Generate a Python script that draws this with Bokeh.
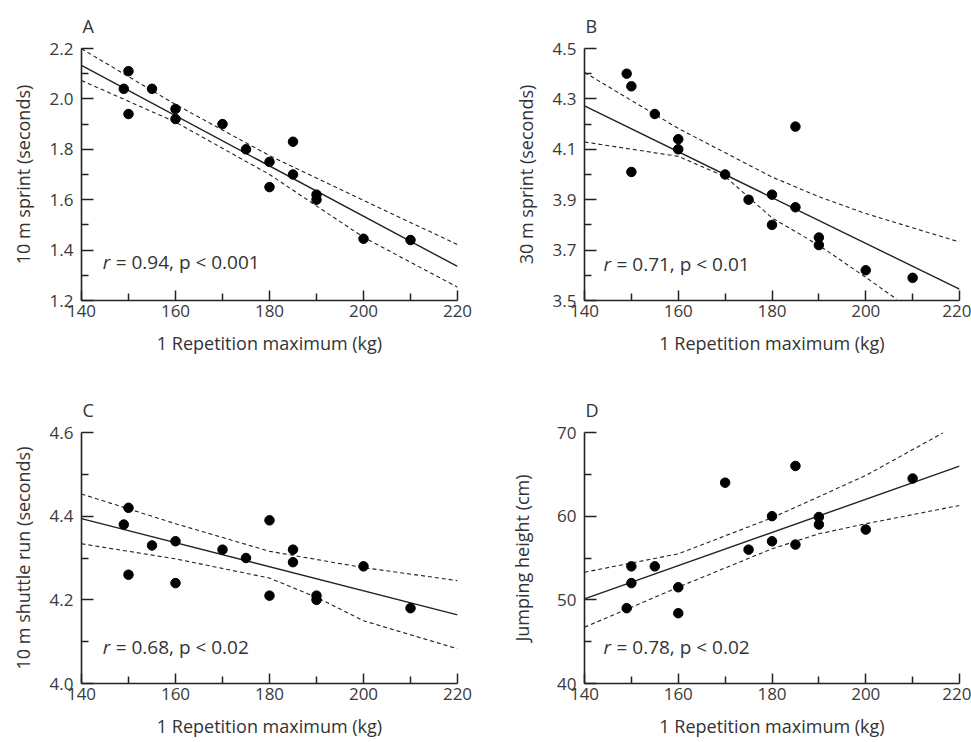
from bokeh.plotting import figure
from bokeh.layouts import column, row
from bokeh.models import Range1d, FixedTicker, PrintfTickFormatter, Label
from bokeh.embed import file_html
from bokeh.resources import INLINE

# ---------------- data ----------------
x_ticks = [140, 160, 180, 200, 220]
x_minor = [150, 170, 190, 210]
x_label = "1 Repetition maximum (kg)"

# Panel A: 10 m sprint
a_x = [149, 150, 150, 155, 160, 160, 170, 175, 180, 180, 185, 185, 190, 190, 200, 210]
a_y = [2.04, 2.11, 1.94, 2.04, 1.96, 1.92, 1.90, 1.80, 1.75, 1.65, 1.83, 1.70, 1.62, 1.60, 1.445, 1.44]
a_fit_x = [140, 220]
a_fit_y = [2.133, 1.335]
a_up_x = [140, 160, 180, 200, 220]
a_up_y = [2.199, 1.978, 1.775, 1.597, 1.422]
a_lo_x = [140, 160, 180, 200, 220]
a_lo_y = [2.073, 1.908, 1.700, 1.451, 1.253]
a_yticks = [1.2, 1.4, 1.6, 1.8, 2.0, 2.2]
a_yminor = [1.3, 1.5, 1.7, 1.9, 2.1]

# Panel B: 30 m sprint
b_x = [149, 150, 150, 155, 160, 160, 170, 175, 180, 180, 185, 185, 190, 190, 200, 210]
b_y = [4.40, 4.35, 4.01, 4.24, 4.14, 4.10, 4.00, 3.90, 3.92, 3.80, 4.19, 3.87, 3.75, 3.72, 3.62, 3.59]
b_fit_x = [140, 220]
b_fit_y = [4.272, 3.545]
b_up_x = [140, 160, 180, 190, 200, 220]
b_up_y = [4.405, 4.183, 3.990, 3.912, 3.845, 3.732]
b_lo_x = [140, 160, 170, 180, 190, 200, 206.6]
b_lo_y = [4.129, 4.072, 3.992, 3.828, 3.719, 3.592, 3.505]
b_yticks = [3.5, 3.7, 3.9, 4.1, 4.3, 4.5]
b_yminor = [3.6, 3.8, 4.0, 4.2, 4.4]

# Panel C: 10 m shuttle run
c_x = [149, 150, 150, 155, 160, 160, 170, 175, 180, 180, 185, 185, 190, 190, 200, 210]
c_y = [4.38, 4.42, 4.26, 4.33, 4.34, 4.24, 4.32, 4.30, 4.39, 4.21, 4.32, 4.29, 4.21, 4.20, 4.28, 4.18]
c_fit_x = [140, 220]
c_fit_y = [4.394, 4.164]
c_up_x = [140, 160, 180, 200, 220]
c_up_y = [4.453, 4.382, 4.316, 4.277, 4.246]
c_lo_x = [140, 160, 180, 190, 200, 220]
c_lo_y = [4.334, 4.298, 4.252, 4.206, 4.150, 4.083]
c_yticks = [4.0, 4.2, 4.4, 4.6]
c_yminor = [4.1, 4.3, 4.5]

# Panel D: jumping height
d_x = [149, 150, 150, 155, 160, 160, 170, 175, 180, 180, 185, 185, 190, 190, 200, 210]
d_y = [49, 54, 52, 54, 51.5, 48.4, 64, 56, 60, 57, 66, 56.6, 59.9, 59, 58.4, 64.5]
d_fit_x = [140, 220]
d_fit_y = [50.12, 65.98]
d_up_x = [140, 160, 180, 200, 216.5]
d_up_y = [53.3, 55.5, 59.8, 64.86, 69.96]
d_lo_x = [140, 160, 180, 190, 200, 220]
d_lo_y = [46.73, 51.51, 56.1, 57.89, 59.09, 61.28]
d_yticks = [40, 50, 60, 70]
d_yminor = [45, 55, 65]

FONT = "Open Sans"
TXT = "#333333"


def panel(letter, ylabel, xs, ys, fx, fy, ux, uy, lx, ly, yticks, yminor, yr, yfmt,
          stat_num, stat_x, stat_y, width, height, top, bottom, right, ylab_standoff):
    p = figure(width=width, height=height, output_backend="svg", toolbar_location=None,
               x_range=Range1d(140, 220), y_range=Range1d(*yr),
               min_border_left=81, min_border_right=right,
               min_border_top=top, min_border_bottom=bottom)
    p.outline_line_color = None
    p.grid.visible = False
    p.background_fill_color = "white"
    p.border_fill_color = "white"

    p.title.text = letter
    p.title.align = "left"
    p.title.offset = 1
    p.title.text_font = FONT
    p.title.text_font_size = "18px"
    p.title.text_font_style = "normal"
    p.title.text_color = TXT
    p.title.standoff = 22

    p.xaxis.ticker = FixedTicker(ticks=x_ticks, minor_ticks=x_minor)
    p.yaxis.ticker = FixedTicker(ticks=yticks, minor_ticks=yminor)
    p.xaxis.formatter = PrintfTickFormatter(format="%d")
    p.yaxis.formatter = PrintfTickFormatter(format=yfmt)

    for ax in (p.xaxis, p.yaxis):
        ax.axis_line_color = "#222222"
        ax.axis_line_width = 1.6
        ax.major_tick_line_color = "#222222"
        ax.minor_tick_line_color = "#222222"
        ax.major_tick_line_width = 1.5
        ax.minor_tick_line_width = 1.5
        ax.major_tick_out = 0
        ax.minor_tick_out = 0
        ax.major_label_text_font = FONT
        ax.major_label_text_font_size = "17px"
        ax.major_label_text_color = "#3a3a3a"
        ax.axis_label_text_font = FONT
        ax.axis_label_text_font_size = "18px"
        ax.axis_label_text_font_style = "normal"
        ax.axis_label_text_color = TXT

    p.xaxis.major_tick_in = 10
    p.xaxis.minor_tick_in = 7
    p.yaxis.major_tick_in = 12
    p.yaxis.minor_tick_in = 7
    p.xaxis.major_label_standoff = 4
    p.yaxis.major_label_standoff = 8
    p.xaxis.axis_label = x_label
    p.yaxis.axis_label = ylabel
    p.xaxis.axis_label_standoff = 11
    p.yaxis.axis_label_standoff = ylab_standoff

    p.line(ux, uy, line_color="#222222", line_width=1.1, line_dash="4 3")
    p.line(lx, ly, line_color="#222222", line_width=1.1, line_dash="4 3")
    p.line(fx, fy, line_color="#222222", line_width=1.4)
    p.scatter(xs, ys, size=9.5, fill_color="black", line_color="black")

    p.add_layout(Label(x=stat_x, y=stat_y, text="r", text_font=FONT, text_font_size="19px",
                       text_font_style="italic", text_color=TXT, text_baseline="middle",
                       text_align="left"))
    p.add_layout(Label(x=stat_x, y=stat_y, x_offset=13, text=stat_num, text_font=FONT,
                       text_font_size="19px", text_color=TXT, text_baseline="middle",
                       text_align="left"))
    return p


pA = panel("A", "10 m sprint (seconds)", a_x, a_y, a_fit_x, a_fit_y, a_up_x, a_up_y,
           a_lo_x, a_lo_y, a_yticks, a_yminor, (1.2, 2.2), "%.1f",
           "= 0.94, p < 0.001", 144.5, 1.351, 503, 373, 48, 73, 46, 12)
pB = panel("B", "30 m sprint (seconds)", b_x, b_y, b_fit_x, b_fit_y, b_up_x, b_up_y,
           b_lo_x, b_lo_y, b_yticks, b_yminor, (3.5, 4.5), "%.1f",
           "= 0.71, p < 0.01", 144.05, 3.644, 468, 373, 48, 73, 12, 12)
pC = panel("C", "10 m shuttle run (seconds)", c_x, c_y, c_fit_x, c_fit_y, c_up_x, c_up_y,
           c_lo_x, c_lo_y, c_yticks, c_yminor, (4.0, 4.6), "%.1f",
           "= 0.68, p < 0.02", 144.5, 4.087, 503, 369, 59, 59, 46, 12)
pD = panel("D", "Jumping height (cm)", d_x, d_y, d_fit_x, d_fit_y, d_up_x, d_up_y,
           d_lo_x, d_lo_y, d_yticks, d_yminor, (40, 70), "%d",
           "= 0.78, p < 0.02", 144.05, 44.34, 468, 369, 59, 59, 12, 20)

layout = column(row(pA, pB, spacing=0), row(pC, pD, spacing=0), spacing=0)

with open("out.html", "w") as f:
    f.write(file_html(layout, INLINE))
